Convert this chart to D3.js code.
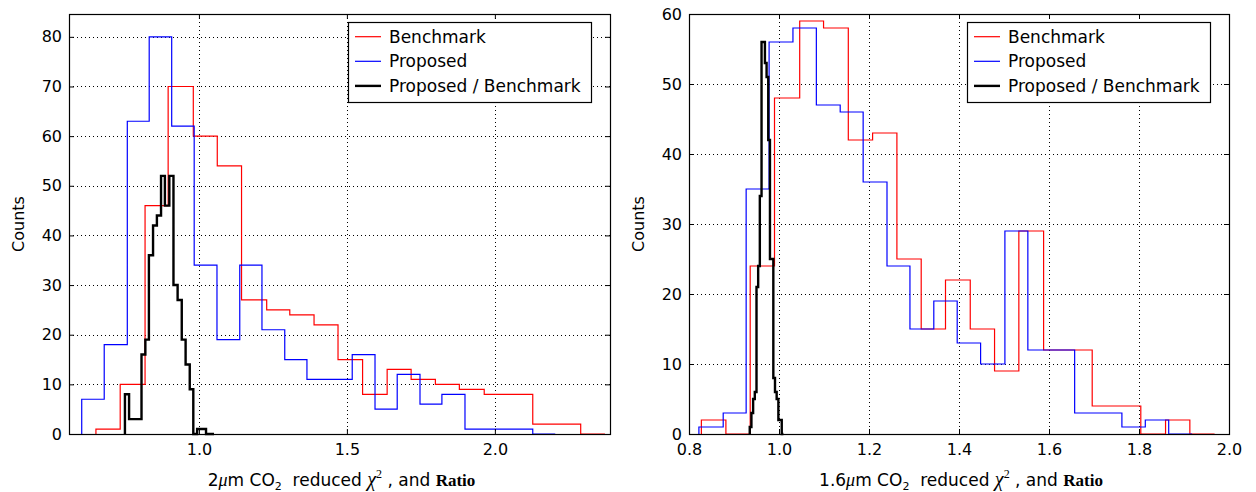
<!DOCTYPE html>
<html>
<head>
<meta charset="utf-8">
<script src="https://cdn.jsdelivr.net/npm/d3@7"></script>
<style>
  body { margin: 0; background: #fff; }
  svg { display: block; }
  text { font-family: "DejaVu Sans", sans-serif; fill: #000; }
</style>
</head>
<body>
<script>
var width = 1256,
    height = 492;

// ---- left panel (2um band) : bin edges and counts ----
var leftBenchEdges = [0.652, 0.734, 0.818, 0.896, 0.981, 1.062, 1.144, 1.229, 1.307, 1.389, 1.470,
                      1.553, 1.636, 1.717, 1.799, 1.880, 1.964, 2.046, 2.128, 2.209, 2.290, 2.372];
var leftBenchCounts = [1, 10, 46, 70, 60, 54, 27, 25, 24, 22, 15, 8, 13, 11, 10, 9, 8, 8, 2, 2, 0];

var leftPropEdges = [0.604, 0.680, 0.758, 0.832, 0.908, 0.984, 1.061, 1.138, 1.213, 1.290, 1.365,
                     1.442, 1.518, 1.595, 1.670, 1.747, 1.821, 1.899, 1.975, 2.051, 2.128, 2.204];
var leftPropCounts = [7, 18, 63, 80, 62, 34, 19, 34, 21, 15, 11, 11, 16, 5, 12, 6, 8, 1, 1, 1, 0];

var leftRatioEdges = [0.750, 0.764, 0.777, 0.791, 0.806, 0.819, 0.831, 0.845, 0.858, 0.872, 0.885, 0.900,
                      0.914, 0.928, 0.942, 0.955, 0.969, 0.981, 0.994, 1.008, 1.024, 1.037, 1.051];
var leftRatioCounts = [8, 3, 3, 3, 16, 19, 36, 42, 44, 52, 46, 52, 30, 27, 19, 14, 9, 0, 1, 1, 0, 0];

var leftXTicks = [1.0, 1.5, 2.0];
var leftYTicks = [0, 10, 20, 30, 40, 50, 60, 70, 80];

// ---- right panel (1.6um band) ----
var rightBenchEdges = [0.8275, 0.882, 0.936, 0.990, 1.046, 1.099, 1.154, 1.208, 1.262, 1.316, 1.370,
                       1.425, 1.479, 1.533, 1.588, 1.642, 1.696, 1.750, 1.804, 1.859, 1.913, 1.968];
var rightBenchCounts = [2, 0, 24, 48, 59, 58, 42, 43, 25, 15, 22, 15, 9, 29, 12, 12, 4, 4, 0, 2, 0];

var rightPropEdges = [0.822, 0.876, 0.927, 0.978, 1.031, 1.083, 1.136, 1.187, 1.240, 1.291, 1.344,
                      1.396, 1.448, 1.502, 1.553, 1.605, 1.657, 1.709, 1.762, 1.814, 1.866, 1.918];
var rightPropCounts = [1, 3, 35, 56, 58, 47, 46, 36, 24, 15, 19, 13, 10, 29, 12, 12, 3, 3, 1, 2, 0];

var rightRatioEdges = [0.9350, 0.9387, 0.9425, 0.9462, 0.9500, 0.9537, 0.9574, 0.9612, 0.9649, 0.9687, 0.9724,
                       0.9761, 0.9799, 0.9836, 0.9874, 0.9911, 0.9948, 0.9986, 1.0023, 1.0061, 1.0098];
var rightRatioCounts = [1, 3, 5, 6, 21, 24, 34, 56, 56, 53, 51, 42, 25, 25, 8, 6, 5, 2, 2, 0];

var rightXTicks = [0.8, 1.0, 1.2, 1.4, 1.6, 1.8, 2.0];
var rightYTicks = [0, 10, 20, 30, 40, 50, 60];

var legendNames = ['Benchmark', 'Proposed', 'Proposed / Benchmark'];
var colors = ['#ff0000', '#0000ff', '#000000'];

var svg = d3.select('body')
    .append('svg')
    .attr('width', width)
    .attr('height', height);

drawPanel({
  left: 69, right: 610, top: 14, bottom: 434,
  xDomain: [0.561, 2.389], yDomain: [0, 84.6],
  xTicks: leftXTicks, yTicks: leftYTicks,
  series: [[leftBenchEdges, leftBenchCounts], [leftPropEdges, leftPropCounts], [leftRatioEdges, leftRatioCounts]],
  band: '2'
});

drawPanel({
  left: 689, right: 1229, top: 14, bottom: 434,
  xDomain: [0.8, 2.0], yDomain: [0, 60],
  xTicks: rightXTicks, yTicks: rightYTicks,
  series: [[rightBenchEdges, rightBenchCounts], [rightPropEdges, rightPropCounts], [rightRatioEdges, rightRatioCounts]],
  band: '1.6'
});

function drawPanel(p) {
  var x = d3.scaleLinear().domain(p.xDomain).range([p.left, p.right]);
  var y = d3.scaleLinear().domain(p.yDomain).range([p.bottom, p.top]);
  var g = svg.append('g');

  // dotted grid
  g.selectAll('.gx').data(p.xTicks).enter().append('line')
    .attr('x1', function(d) { return Math.round(x(d)) + 0.5; })
    .attr('x2', function(d) { return Math.round(x(d)) + 0.5; })
    .attr('y1', p.top).attr('y2', p.bottom)
    .attr('stroke', '#000').attr('stroke-width', 1).attr('stroke-dasharray', '1,3');
  g.selectAll('.gy').data(p.yTicks).enter().append('line')
    .attr('y1', function(d) { return Math.round(y(d)) + 0.5; })
    .attr('y2', function(d) { return Math.round(y(d)) + 0.5; })
    .attr('x1', p.left).attr('x2', p.right)
    .attr('stroke', '#000').attr('stroke-width', 1).attr('stroke-dasharray', '1,3');

  // step histograms
  var line = d3.line()
    .x(function(d) { return x(d[0]); })
    .y(function(d) { return y(d[1]); })
    .curve(d3.curveStepAfter);

  p.series.forEach(function(s, i) {
    var edges = s[0], counts = s[1];
    var pts = [[edges[0], 0]];
    counts.forEach(function(c, j) { pts.push([edges[j], c]); });
    pts.push([edges[edges.length - 1], 0]);
    g.append('path')
      .attr('d', line(pts))
      .attr('fill', 'none')
      .attr('stroke', colors[i])
      .attr('stroke-width', i == 2 ? 2.4 : 1.2)
      .attr('stroke-linejoin', 'miter');
  });

  // axes with inward ticks on all sides
  var fmt = d3.format('.1f');
  g.append('g').attr('transform', 'translate(0,' + p.bottom + ')')
    .call(d3.axisBottom(x).tickValues(p.xTicks).tickFormat(fmt).tickSize(-5).tickPadding(10));
  g.append('g').attr('transform', 'translate(0,' + p.top + ')')
    .call(d3.axisTop(x).tickValues(p.xTicks).tickFormat('').tickSize(-5));
  g.append('g').attr('transform', 'translate(' + p.left + ',0)')
    .call(d3.axisLeft(y).tickValues(p.yTicks).tickFormat(d3.format('d')).tickSize(-5).tickPadding(7));
  g.append('g').attr('transform', 'translate(' + p.right + ',0)')
    .call(d3.axisRight(y).tickValues(p.yTicks).tickFormat('').tickSize(-5));
  g.selectAll('.domain').remove();
  g.selectAll('.tick text').style('font-family', '"DejaVu Sans", sans-serif').style('font-size', '16px');
  g.selectAll('.tick line').attr('stroke', '#000');

  g.append('rect')
    .attr('x', p.left + 0.5).attr('y', p.top + 0.5)
    .attr('width', p.right - p.left).attr('height', p.bottom - p.top)
    .attr('fill', 'none').attr('stroke', '#000').attr('stroke-width', 1.2);

  // legend
  var lw = 243, lx = p.right - 19 - lw, ly = 22;
  g.append('rect')
    .attr('x', lx + 0.5).attr('y', ly + 0.5).attr('width', lw).attr('height', 80)
    .attr('fill', '#fff').attr('stroke', '#000').attr('stroke-width', 1.2);
  legendNames.forEach(function(name, i) {
    var yy = ly + 14.7 + i * 24.6;
    g.append('line')
      .attr('x1', lx + 7).attr('x2', lx + 33).attr('y1', yy).attr('y2', yy)
      .attr('stroke', colors[i]).attr('stroke-width', i == 2 ? 2.4 : 1.2);
    g.append('text')
      .attr('x', lx + 41).attr('y', yy).attr('dy', '0.36em')
      .style('font-size', '17px')
      .text(name);
  });

  // y label
  g.append('text')
    .attr('transform', 'translate(' + (p.left - 45) + ',' + ((p.top + p.bottom) / 2) + ') rotate(-90)')
    .attr('text-anchor', 'middle')
    .style('font-size', '16px')
    .text('Counts');

  // x label with math parts
  var xl = g.append('text')
    .attr('x', (p.left + p.right) / 2 + 2).attr('y', 486)
    .attr('text-anchor', 'middle')
    .style('font-size', '17px');
  xl.append('tspan').text(p.band);
  xl.append('tspan').style('font-family', '"Liberation Serif", serif').style('font-style', 'italic').style('font-size', '18px').text('μ');
  xl.append('tspan').text('m CO');
  xl.append('tspan').attr('dy', 4).style('font-size', '11px').text('2');
  xl.append('tspan').attr('dy', -4).text('\u00a0 reduced ');
  xl.append('tspan').style('font-family', '"Liberation Serif", serif').style('font-style', 'italic').style('font-size', '20px').text('χ');
  xl.append('tspan').attr('dy', -8).style('font-family', '"Liberation Serif", serif').style('font-size', '12px').text('2');
  xl.append('tspan').attr('dy', 8).text(' , and ');
  xl.append('tspan').style('font-family', '"Liberation Serif", serif').style('font-weight', 'bold').style('font-size', '17px').text('Ratio');
}
</script>
</body>
</html>
